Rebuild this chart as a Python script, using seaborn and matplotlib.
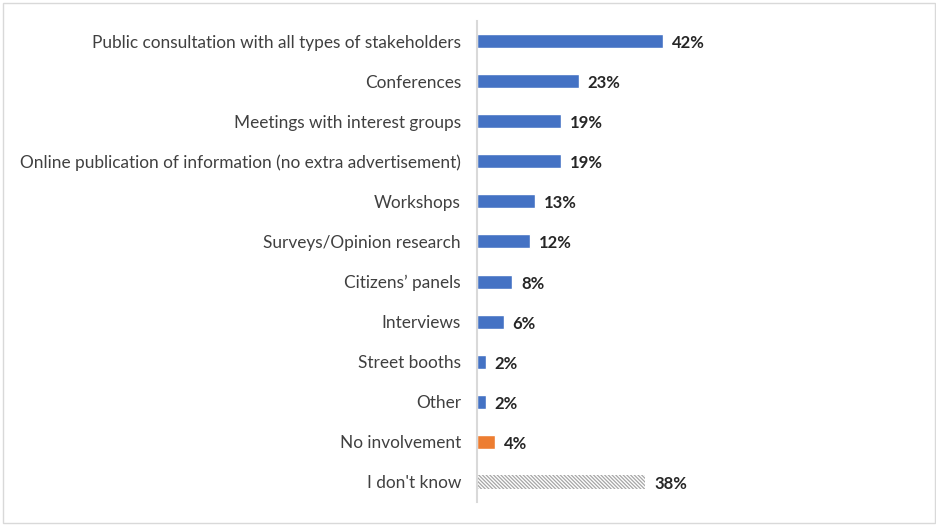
import matplotlib
matplotlib.use("Agg")
import matplotlib.pyplot as plt
import seaborn as sns
import pandas as pd

# dane
categories = [
    "Public consultation with all types of stakeholders",
    "Conferences",
    "Meetings with interest groups",
    "Online publication of information (no extra advertisement)",
    "Workshops",
    "Surveys/Opinion research",
    "Citizens\u2019 panels",
    "Interviews",
    "Street booths",
    "Other",
    "No involvement",
    "I don't know",
]
values = [42, 23, 19, 19, 13, 12, 8, 6, 2, 2, 4, 38]
colors = ["#4472C4"] * 10 + ["#ED7D31", "white"]

df = pd.DataFrame({"category": categories, "value": values})

sns.set_theme(style="white")
plt.rcParams["font.family"] = ["Lato", "DejaVu Sans"]
plt.rcParams["hatch.color"] = "#A6A6A6"
plt.rcParams["hatch.linewidth"] = 0.9

fig = plt.figure(figsize=(9.37, 5.26), dpi=100)
ax = fig.add_axes([477 / 937, 24 / 526, 421 / 937, 481 / 526])

sns.barplot(data=df, x="value", y="category", hue="category", palette=colors,
            legend=False, width=0.35, orient="h", ax=ax, saturation=1)

# ostatni słupek kreskowany
last = ax.patches[-1]
last.set_hatch("\\" * 9)
last.set_edgecolor("#A6A6A6")
last.set_linewidth(0)

for i, v in enumerate(values):
    ax.text(v + 2.0, i + 0.05, f"{v}%", va="center", ha="left", fontsize=12,
            fontweight="bold", color="#262626")

ax.set_xlim(0, 95)
ax.set_ylim(11.5, -0.5)
ax.set_xlabel("")
ax.set_ylabel("")
ax.set_xticks([])
ax.tick_params(axis="y", length=0, pad=11.5, labelsize=12.4, labelcolor="#404040")
for side in ["top", "right", "bottom"]:
    ax.spines[side].set_visible(False)
ax.spines["left"].set_color("#D9D9D9")
ax.spines["left"].set_linewidth(1.5)

# ramka wokół całego obrazka
fig.patches.append(plt.Rectangle((3 / 937, 3 / 526), 932 / 937, 520 / 526,
                                 transform=fig.transFigure, fill=False,
                                 edgecolor="#D9D9D9", linewidth=1))

fig.savefig("out.png", dpi=100)
